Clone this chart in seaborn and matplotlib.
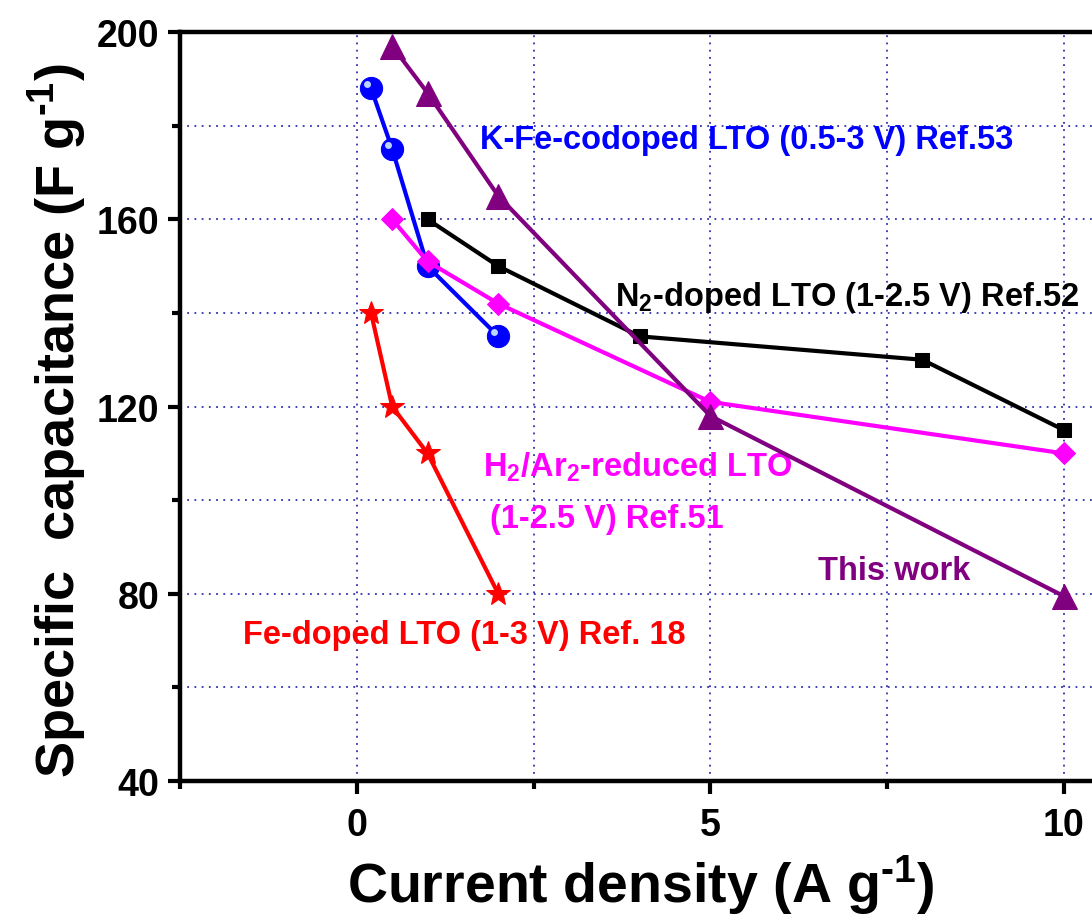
import matplotlib
matplotlib.use('Agg')
import matplotlib.pyplot as plt
import matplotlib.transforms as mtransforms
import numpy as np
import pandas as pd
import seaborn as sns

# data
kfe_x = [0.2, 0.5, 1, 2]
kfe_y = [188, 175, 150, 135]

work_x = [0.5, 1, 2, 5, 10]
work_y = [197, 187, 165, 118, 79.5]

n2_x = [1, 2, 4, 8, 10]
n2_y = [160, 150, 135, 130, 115]

h2_x = [0.5, 1, 2, 5, 10]
h2_y = [160, 151, 142, 121, 110]

fe_x = [0.2, 0.5, 1, 2]
fe_y = [140, 120, 110, 80]

sns.set_style('white')
plt.rcParams['font.family'] = ['Liberation Sans', 'DejaVu Sans']
plt.rcParams['mathtext.fontset'] = 'custom'
plt.rcParams['mathtext.rm'] = 'Liberation Sans:bold'
plt.rcParams['mathtext.it'] = 'Liberation Sans:bold'
plt.rcParams['mathtext.bf'] = 'Liberation Sans:bold'
plt.rcParams['text.color'] = 'black'
plt.rcParams['axes.labelcolor'] = 'black'
plt.rcParams['xtick.color'] = 'black'
plt.rcParams['ytick.color'] = 'black'

fig = plt.figure(figsize=(10.92, 9.2), dpi=100)
ax = fig.add_axes([0.165, 0.15, 0.835, 0.814])

series = [
    (kfe_x, kfe_y, '#0000FF', 'o', 16),
    (work_x, work_y, '#800080', '^', 18),
    (n2_x, n2_y, '#000000', 's', 10),
    (h2_x, h2_y, '#FF00FF', 'D', 11),
    (fe_x, fe_y, '#FF0000', '*', 18),
]
order = [2, 0, 3, 1, 4]
for i in order:
    x, y, c, m, ms = series[i]
    df = pd.DataFrame({'x': x, 'y': y})
    sns.lineplot(data=df, x='x', y='y', color=c, marker=m, markersize=ms,
                 markeredgecolor=c, linewidth=3, ax=ax, zorder=3 + order.index(i))

# sphere highlight on the blue points
hl = mtransforms.offset_copy(ax.transData, fig=fig, x=-3, y=3, units='points')
ax.plot(kfe_x, kfe_y, 'o', color='#BBD4FF', markersize=5, markeredgewidth=0,
        transform=hl, zorder=4.5)

ax.set_xlim(-2.5, 10.4)
ax.set_ylim(40, 200)
ax.set_xticks([0, 5, 10])
ax.set_xticks([-2.5, 2.5, 7.5], minor=True)
ax.set_yticks([40, 80, 120, 160, 200])
ax.set_yticks([60, 100, 140, 180], minor=True)

ax.grid(True, which='both', color='#3030B0', linestyle=(0, (1, 3)), linewidth=1.3)
ax.set_axisbelow(True)

for s in ['left', 'bottom', 'top']:
    ax.spines[s].set_linewidth(3.2)
    ax.spines[s].set_color('black')
ax.spines['right'].set_visible(False)

ax.tick_params(which='both', bottom=True, left=True, top=False, right=False,
               direction='out', width=3, colors='black')
ax.tick_params(which='major', length=9, labelsize=27, pad=6)
ax.tick_params(which='minor', length=6)
ax.tick_params(axis='x', which='major', pad=10)
for lab in ax.get_xticklabels() + ax.get_yticklabels():
    lab.set_fontweight('bold')

ax.set_xlabel('Current density (A g$^{\\text{-}1}$)', fontsize=40, fontweight='bold')
ax.set_ylabel('Specific  capacitance (F g$^{\\text{-}1}$)', fontsize=39, fontweight='bold')
ax.xaxis.set_label_coords(0.505, -0.095)
ax.yaxis.set_label_coords(-0.1, 0.483)

fs = 23.5
ax.text(1.74, 177, 'K-Fe-codoped LTO (0.5-3 V) Ref.53', color='#0000FF', fontsize=fs,
        fontweight='bold', ha='left', va='center')
ax.text(3.65, 143.6, 'N$_2$-doped LTO (1-2.5 V) Ref.52', color='black', fontsize=fs,
        fontweight='bold', ha='left', va='center')
ax.text(1.78, 107.3, 'H$_2$/Ar$_2$-reduced LTO', color='#FF00FF', fontsize=fs,
        fontweight='bold', ha='left', va='center')
ax.text(1.88, 96, '(1-2.5 V) Ref.51', color='#FF00FF', fontsize=fs,
        fontweight='bold', ha='left', va='center')
ax.text(6.53, 85, 'This work', color='#800080', fontsize=fs,
        fontweight='bold', ha='left', va='center')
ax.text(-1.61, 71.2, 'Fe-doped LTO (1-3 V) Ref. 18', color='#FF0000', fontsize=fs,
        fontweight='bold', ha='left', va='center')

fig.savefig('out.png', dpi=100)
